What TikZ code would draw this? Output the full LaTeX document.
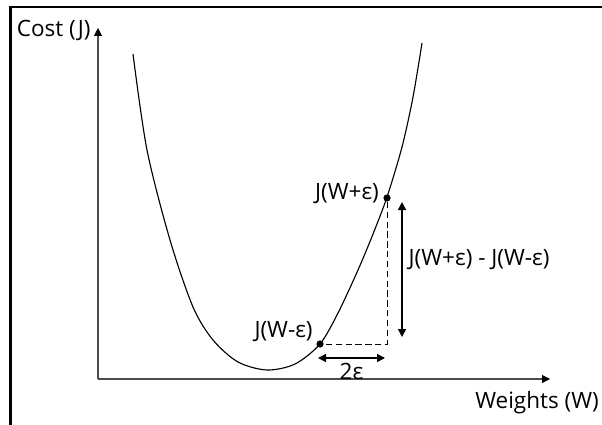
\documentclass[tikz,border=0pt]{standalone}
\usepackage{fontspec}
\setmainfont{Open Sans}
\usetikzlibrary{positioning,arrows.meta}

\tikzset{
    lbl/.style={inner sep=0pt, font=\fontsize{16}{19}\selectfont},
    dot/.style={circle, fill=black, inner sep=0pt, minimum size=0.18cm},
    axis/.style={draw=black!70, line width=0.75pt, -{Triangle[length=0.2cm, width=0.2cm, color=black]}},
    dimarrow/.style={line width=1pt, {Triangle[length=0.2cm, width=0.2cm]}-{Triangle[length=0.2cm, width=0.2cm]}},
    guide/.style={line width=0.6pt, dash pattern=on 4.5pt off 2.5pt}
}

\begin{document}
\begin{tikzpicture}[x=0.025cm, y=-0.025cm]
    \useasboundingbox (0,0) rectangle (602,425);

    % cadre
    \draw[line width=1.9pt] (10.5,425) -- (10.5,7) -- (602,7);

    % axes
    \coordinate (o) at (98,379);
    \coordinate (ytip) at (98,28);
    \coordinate (xtip) at (550,379);
    \draw[axis] (o) -- (ytip);
    \draw[axis] (o) -- (xtip);
    \node[lbl, left=0.18cm of ytip, yshift=-0.05cm] (cost) {Cost (J)};
    \node[lbl] (weights) at (537,403) {Weights (W)};

    % courbe de coût
    \draw[line width=0.8pt] plot[smooth] coordinates {
        (133,54) (147,150) (170,240) (193,307) (213,340) (238,362) (267,370)
        (295,364) (320,344) (338,313) (358,270) (373,234) (387,197) (402,147)
        (413,97) (422,43)};

    % points
    \node[dot] (wp) at (387,198) {};
    \node[dot] (wm) at (320,344) {};
    \node[lbl, left=0.1cm of wp, yshift=0.12cm] (lwp) {J(W+ε)};
    \node[lbl, left=0.08cm of wm, yshift=0.3cm] (lwm) {J(W-ε)};

    \draw[guide] (wp) |- (wm);

    % différences
    \coordinate (dt) at (402,202);
    \coordinate (db) at (402,337);
    \draw[dimarrow] (dt) -- node[lbl, right=0.15cm, yshift=0.24cm] (ldj) {J(W+ε) - J(W-ε)} (db);

    \coordinate (dl) at (318,358);
    \coordinate (dr) at (385,358);
    \draw[dimarrow] (dl) -- node[lbl, below=0.12cm] (lde) {2ε} (dr);

\end{tikzpicture}
\end{document}
